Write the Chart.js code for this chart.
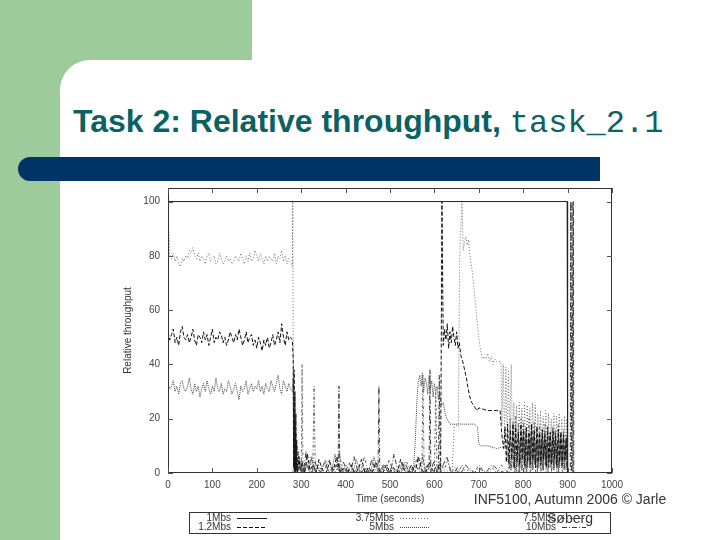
<!DOCTYPE html>
<html><head><meta charset="utf-8">
<script src="https://cdn.jsdelivr.net/npm/chart.js@4.4.1/dist/chart.umd.min.js"></script>
<style>
html,body{margin:0;padding:0;background:#fff;}
#slide{position:relative;width:720px;height:540px;overflow:hidden;background:#fff;font-family:"Liberation Sans",Arial,sans-serif;}
.g1{position:absolute;left:0;top:0;width:252px;height:90px;background:#9dcb9b;}
.g2{position:absolute;left:0;top:0;width:60px;height:540px;background:#9dcb9b;}
.panel{position:absolute;left:60px;top:60px;width:660px;height:480px;background:#fff;border-top-left-radius:30px;}
.title{position:absolute;left:73px;top:103px;font-size:32px;line-height:36px;font-weight:bold;color:#0b6262;white-space:nowrap;}
.title .mono{font-family:"Liberation Mono",monospace;font-weight:normal;font-size:32px;}
.bar{position:absolute;left:18px;top:157px;width:582px;height:24px;background:#003366;border-radius:12px 0 0 12px;}
#chart{position:absolute;left:0;top:0;}
.legend{position:absolute;left:189px;top:512px;width:420px;height:20px;border:1px solid #333;background:#fff;}
.li{position:absolute;font-size:10px;line-height:10px;color:#333;white-space:nowrap;text-align:right;width:60px;}
.ls{position:absolute;height:10px;}
.ls svg{display:block;}
.footer{position:absolute;left:470px;top:490px;width:200px;text-align:center;font-size:14px;line-height:19px;color:#333;z-index:5;}
</style></head>
<body>
<div id="slide">
  <div class="g1"></div><div class="g2"></div><div class="panel"></div>
  <div class="title">Task 2: Relative throughput, <span class="mono">task_2.1</span></div>
  <div class="bar"></div>
  <canvas id="chart" width="720" height="540"></canvas>
  <div class="legend" id="legend"></div>
  <div class="footer">INF5100, Autumn 2006 © Jarle<br>Søberg</div>
</div>
<script>
// ---- axis ticks ----
const xTicks = [0,100,200,300,400,500,600,700,800,900,1000];
const yTicks = [0,20,40,60,80,100];

// ---- series labels ----
const seriesLabels = ['1Mbs','1.2Mbs','3.75Mbs','5Mbs','7.5Mbs','10Mbs'];

// ---- early (0-280 s) sample times and values ----
const tEarly = [0,4,8,12,16,20,24,28,32,36,40,44,48,52,56,60,64,68,72,76,80,84,88,92,96,100,104,108,112,116,120,124,128,132,136,140,144,148,152,156,160,164,168,172,176,180,184,188,192,196,200,204,208,212,216,220,224,228,232,236,240,244,248,252,256,260,264,268,272,276,280];
const early80 = [100,80,79,81,78,80,77,76,79,78, 80,79,82,81,83,80,79,81,78,80, 79,77,80,81,78,79,80,77,78,81, 79,77,78,80,78,79,77,78,80,79, 78,81,79,77,80,78,81,78,79,82, 80,78,81,79,77,80,78,80,79,78, 81,77,80,79,82,78,80,77,79,78, 76];
const early50 = [52,49,51,53,48,50,47,52,54,50, 49,51,48,50,53,49,47,51,50,48, 52,49,51,47,50,53,48,50,49,52, 51,48,50,47,49,52,50,48,51,49, 53,50,47,49,52,48,50,51,47,49, 46,50,48,45,49,47,50,46,48,51, 47,49,52,48,55,50,47,52,49,50, 49];
const early32 = [33,31,32,34,30,32,29,33,34,31, 30,32,35,31,29,33,30,32,28,31, 33,30,34,31,29,32,30,35,31,30, 33,29,31,30,34,32,29,31,33,30, 27,32,30,31,34,29,31,33,30,32, 31,34,30,32,29,33,31,30,34,32, 30,33,36,31,29,34,32,30,33,31, 30];

// ---- series as [time, relative throughput] ----
const s1Mbs = [[0,100],[899,100],[900,0]];

const late12 = [[282,42],[283,2],[284,38],[285,1],[286,30],[287,0],[288,22],[289,1],[290,12],[292,0],
 [295,6],[298,1],[302,4],[308,0],[314,7],[320,1],[327,3],[334,0],[340,5],[348,1],
 [356,0],[364,4],[372,1],[380,6],[388,0],[396,2],[404,0],[412,3],[420,0],[428,1],
 [436,5],[444,0],[452,2],[460,0],[468,4],[476,1],[484,0],[492,3],[500,0],[508,2],
 [516,0],[524,5],[532,1],[540,0],[548,3],[556,0],[564,6],[572,1],[580,0],[588,4],
 [596,1],[604,0],[610,3],[614,1],[617,100],[620,47],[623,53],[626,49],[629,55],[632,46],
 [635,52],[638,48],[641,54],[644,50],[647,47],[650,52],[653,46],[656,48],[660,43],[664,41],
 [668,38],[672,35],[676,31],[680,28],[684,26],[688,25],[692,24],[696,23],[700,24],[720,23],
 [740,23],[748,23],[752,14],[756,9],
 [759,17],[762,4],[765,18],[768,3],[771,16],[774,5],[777,18],[780,2],[783,17],[786,4],
 [789,15],[792,3],[795,18],[798,5],[801,16],[804,2],[807,17],[810,4],[813,15],[816,3],
 [819,18],[822,5],[825,16],[828,2],[831,17],[834,4],[837,15],[840,3],[843,16],[846,5],
 [849,14],[852,2],[855,17],[858,4],[861,15],[864,3],[867,16],[870,5],[873,14],[876,2],
 [879,16],[882,4],[885,15],[888,3],[891,14],[894,5],[897,13],[900,0]];

const late375 = [[281,100],[283,2],[290,1],[300,0],[312,2],[325,0],[340,1],[352,0],[366,2],[380,0],
 [395,1],[410,0],[424,2],[440,0],[455,1],[470,0],[486,2],[500,0],[515,1],[530,0],
 [545,2],[560,0],[575,1],[590,0],[605,2],[620,0],[632,1],[640,1],[645,18],[654,17],
 [657,80],[662,100],[665,82],[668,85],[671,87],[674,84],[677,86],[680,80],[684,76],[688,70],
 [692,63],[696,56],[700,50],[704,45],[708,42],[712,43],[716,42],[720,44],[724,41],[728,43],
 [732,40],[736,42],[740,41],[745,41],[750,41],
 [752,18],[755,40],[758,12],[761,39],[764,10],[767,38],[770,14],[773,40],[776,9],[779,26],
 [782,7],[785,25],[788,6],[791,26],[794,8],[797,24],[800,5],[803,26],[806,7],[809,25],
 [812,6],[815,24],[818,8],[821,26],[824,5],[827,25],[830,7],[833,22],[836,5],[839,23],
 [842,4],[845,21],[848,6],[851,23],[854,3],[857,22],[860,5],[863,20],[866,4],[869,22],
 [872,6],[875,21],[878,3],[881,22],[884,5],[887,20],[890,4],[893,21],[896,6],[898,20],[900,0]];

const late5 = [[282,35],[283,3],[284,28],[285,0],[286,20],[287,1],[288,15],[289,0],[290,10],[292,0],
 [294,8],[296,2],[300,5],[306,0],[312,3],[318,1],[324,6],[331,0],[338,2],[345,0],
 [352,4],[360,1],[368,0],[376,7],[384,1],[392,0],[400,3],[408,1],[416,0],[424,5],
 [432,1],[440,0],[448,2],[456,0],[464,6],[472,1],[480,0],[488,3],[496,0],[504,2],
 [512,1],[520,0],[528,4],[536,1],[544,0],[550,2],[553,1],[557,12],[561,28],[564,34],
 [567,36],[570,32],[573,37],[576,30],[579,35],[582,33],[585,29],[588,36],[591,31],[594,34],
 [597,28],[600,33],[603,30],[606,32],[609,27],[612,29],[616,25],[620,26],[624,22],[628,20],
 [632,19],[635,18],[650,18],[670,18],[690,18],[697,17],[700,11],[704,10],[720,10],[740,9],
 [763,10],[766,4],
 [769,12],[772,1],[775,11],[778,2],[781,13],[784,0],[787,10],[790,2],[793,12],[796,1],
 [799,11],[802,3],[805,12],[808,0],[811,10],[814,2],[817,13],[820,1],[823,11],[826,3],
 [829,12],[832,0],[835,10],[838,2],[841,11],[844,1],[847,12],[850,3],[853,10],[856,0],
 [859,11],[862,2],[865,12],[868,1],[871,10],[874,3],[877,11],[880,0],[883,12],[886,2],
 [889,10],[892,1],[895,11],[898,2],[900,0]];

const s75Mbs = [[0,0],[280,0],[284,3],[290,1],[296,5],[300,0],[302,40],[304,0],[310,4],[316,1],
 [322,6],[326,0],[329,32],[332,0],[338,3],[346,1],[354,5],[362,0],[370,2],[378,0],
 [386,8],[392,1],[400,0],[410,4],[418,0],[426,2],[434,0],[442,6],[450,1],[458,0],
 [466,3],[474,0],[482,2],[490,0],[498,5],[506,1],[514,0],[522,3],[530,0],[538,4],
 [546,0],[554,2],[562,6],[568,1],[572,0],[574,36],[577,0],[584,3],[592,1],[600,0],
 [603,30],[606,0],[614,4],[622,1],[630,5],[638,0],[646,2],[654,0],[662,3],[670,0],
 [680,2],[690,0],[700,3],[710,1],[720,0],[730,2],[740,0],[750,3],[760,1],[768,0],
 [771,20],[774,1],[777,19],[780,0],[783,21],[786,2],[789,18],[792,0],[795,20],[798,1],
 [801,19],[804,0],[807,17],[810,2],[813,20],[816,0],[819,18],[822,1],[825,19],[828,0],
 [831,17],[834,2],[837,18],[840,0],[843,16],[846,1],[849,18],[852,0],[855,17],[858,2],
 [861,15],[864,0],[867,17],[870,1],[873,16],[876,0],[879,18],[882,2],[885,15],[888,0],
 [891,16],[894,1],[897,14],[900,0]];

const s10Mbs = [[0,0],[282,0],[287,5],[293,1],[299,3],[305,0],[311,8],[317,1],[323,0],[331,4],
 [339,1],[347,0],[355,2],[363,5],[371,0],[379,3],[383,1],[385,32],[387,0],[395,4],
 [403,1],[411,0],[419,6],[427,1],[435,0],[443,2],[451,0],[459,5],[467,1],[473,0],
 [475,32],[477,0],[485,3],[493,1],[501,0],[509,7],[517,1],[525,0],[533,4],[541,1],
 [549,0],[557,3],[565,1],[573,6],[581,0],[588,2],[590,38],[592,0],[598,4],[605,1],
 [609,0],[611,36],[613,0],[620,3],[628,6],[636,1],[644,0],[652,2],[660,0],[670,3],
 [680,1],[690,0],[700,2],[715,0],[730,3],[745,1],[760,0],[775,4],[790,0],
 [800,14],[803,3],[806,15],[809,2],[812,13],[815,4],[818,15],[821,2],[824,14],[827,3],
 [830,12],[833,2],[836,14],[839,4],[842,13],[845,2],[848,15],[851,3],[854,12],[857,2],
 [860,14],[863,4],[866,13],[869,2],[872,15],[875,3],[878,12],[881,2],[884,14],[887,4],
 [890,13],[893,2],[896,12],[899,0],[906,0],[907,100],[909,0],[910,100],[912,0],[913,100],[914,0]];

// build full series from the arrays above
const joinEarly = (vals, late) => tEarly.map((t,i)=>[t, vals[i]]).concat(late);
const seriesData = [
  s1Mbs,
  joinEarly(early50, late12),
  joinEarly(early80, late375),
  joinEarly(early32, late5),
  s75Mbs,
  s10Mbs
];
const styles = [
  {color:'#222', dash:[]},
  {color:'#111', dash:[4,2]},
  {color:'#6e6e6e', dash:[1,2]},
  {color:'#444', dash:[1,1]},
  {color:'#666', dash:[3,2,1,2]},
  {color:'#3a3a3a', dash:[5,2,1,2]}
];

const framePlugin = {
  id:'frame',
  afterDatasetsDraw(chart){
    const {ctx, chartArea:{left,right,top,bottom}, scales:{x,y}} = chart;
    ctx.save();
    ctx.lineWidth = 1;
    ctx.strokeStyle = '#333';
    ctx.strokeRect(left+0.5, top+0.5, right-left-1, bottom-top-1);
    ctx.strokeStyle = '#555';
    ctx.beginPath();
    xTicks.forEach(v=>{
      const px = Math.round(x.getPixelForValue(v))+0.5;
      ctx.moveTo(px,bottom); ctx.lineTo(px,bottom-5);
      ctx.moveTo(px,top); ctx.lineTo(px,top+5);
    });
    yTicks.forEach(v=>{
      const py = Math.round(y.getPixelForValue(v))+0.5;
      ctx.moveTo(left,py); ctx.lineTo(left+5,py);
      ctx.moveTo(right,py); ctx.lineTo(right-5,py);
    });
    ctx.stroke();
    ctx.restore();
  }
};

const tickFont = {family:'"Liberation Sans", Arial, sans-serif', size:10};
const chart = new Chart(document.getElementById('chart'), {
  type:'line',
  data:{
    datasets: seriesLabels.map((lab,i)=>({
      label: lab,
      data: seriesData[i].map(p=>({x:p[0], y:p[1]})),
      borderColor: styles[i].color,
      borderDash: styles[i].dash,
      borderWidth: 1,
      pointRadius: 0,
      fill: false,
      tension: 0
    }))
  },
  options:{
    responsive:false,
    animation:false,
    devicePixelRatio:1,
    layout:{padding:{left:110,right:108,top:188,bottom:31}},
    plugins:{legend:{display:false},tooltip:{enabled:false}},
    scales:{
      x:{
        type:'linear', min:0, max:1000,
        afterBuildTicks: s => { s.ticks = xTicks.map(v=>({value:v})); },
        afterFit: s => { s.height = 36; },
        grid:{display:false, drawTicks:false},
        border:{display:false},
        ticks:{padding:6, color:'#444', font:tickFont, autoSkip:false, maxRotation:0, callback: v => String(v)},
        title:{display:true, text:'Time (seconds)', color:'#333', font:tickFont, padding:{top:4,bottom:4}}
      },
      y:{
        type:'linear', min:0, max:105,
        afterBuildTicks: s => { s.ticks = yTicks.map(v=>({value:v})); },
        afterFit: s => { s.width = 58; },
        grid:{display:false, drawTicks:false},
        border:{display:false},
        ticks:{padding:8, color:'#444', font:tickFont, callback: v => String(v)},
        title:{display:true, text:'Relative throughput', color:'#333', font:tickFont, padding:{top:12,bottom:4}}
      }
    }
  },
  plugins:[framePlugin]
});

// legend box (gnuplot style: label then line sample, 3 columns x 2 rows)
const legend = document.getElementById('legend');
const colRight = [41, 204, 366];
const sampleW = [30, 30, 24];
const rowTop = [0, 9];
chart.data.datasets.forEach((ds,i)=>{
  const col = Math.floor(i/2), row = i%2;
  const lab = document.createElement('div');
  lab.className = 'li';
  lab.style.left = (colRight[col]-60)+'px';
  lab.style.top = rowTop[row]+'px';
  lab.textContent = ds.label;
  legend.appendChild(lab);
  const w = sampleW[col];
  const svg = document.createElement('div');
  svg.className = 'ls';
  svg.style.left = (colRight[col]+6)+'px';
  svg.style.top = rowTop[row]+'px';
  const dash = ds.borderDash.length ? ds.borderDash.join(' ') : 'none';
  svg.innerHTML = `<svg width="${w}" height="10"><line x1="0" y1="5.5" x2="${w}" y2="5.5" stroke="${ds.borderColor}" stroke-width="1" stroke-dasharray="${dash}"/></svg>`;
  legend.appendChild(svg);
});
</script>
</body></html>
